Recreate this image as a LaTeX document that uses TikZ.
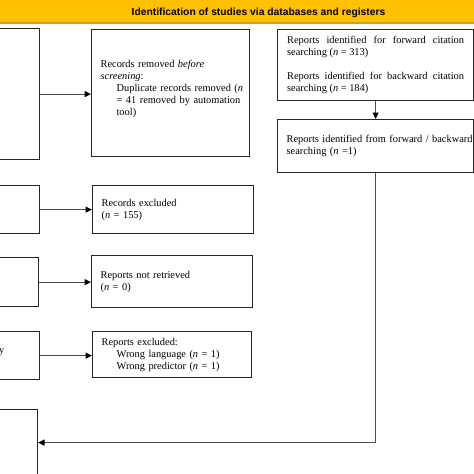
\documentclass[tikz,border=0pt]{standalone}
\usepackage{fontspec}
\setmainfont{Liberation Serif}
\newfontfamily\headfont{Liberation Sans}
\usetikzlibrary{arrows.meta,positioning}
\definecolor{bandgold}{RGB}{255,192,0}
\definecolor{bandedge}{RGB}{214,160,20}
\begin{document}
\begin{tikzpicture}[x=1pt,y=-1pt,
	box/.style={draw=black!85,line width=1.2pt,inner xsep=9pt,inner ysep=0pt,align=left,anchor=north west,font=\fontsize{10.4}{12}\selectfont},
	link/.style={draw=black!70,line width=1pt,-{Triangle[length=6.5pt,width=6pt,color=black]}}]
	\useasboundingbox (0,0) rectangle (474,474);
	% header band
	\fill[bandgold] (0,0) rectangle (474,23);
	\draw[bandedge,line width=1.2pt] (0,23) -- (474,23);
	\node[font=\headfont\bfseries\fontsize{10.3}{12}\selectfont] (head) at (258.5,12.5) {Identification of studies via databases and registers};
	% left column, cut at the page edge
	\foreach \n/\t/\r/\h in {L1/28/40/131,L2/185/40/48,L3/257/39/49,L4/331/40/48,L5/409/38/66}
		\node[box,anchor=north east,minimum width=80pt,minimum height=\h pt] (\n) at (\r,\t) {};
	\node[font=\fontsize{10.4}{12}\selectfont,anchor=base east,inner sep=0pt] (cut) at (4.5,353) {y};
	% middle column
	\node[box,text width=140pt,minimum width=158pt,minimum height=127pt] (M1) at (91,29) {Records removed \textit{before}\\
		\textit{screening}:\\
		\mbox{\hspace*{16pt}Duplicate records removed (\textit{n}}\\
		\mbox{\hspace*{16pt}= 41 removed by automation}\\
		\hspace*{16pt}tool)\\[-1pt]\mbox{}};
	\node[box,text width=143pt,minimum width=161pt,minimum height=48pt] (M2) at (92,185) {Records excluded\\(\textit{n} = 155)};
	\node[box,text width=143pt,minimum width=161pt,minimum height=52pt] (M3) at (91,255) {Reports not retrieved\\(\textit{n} = 0)};
	\node[box,text width=141pt,minimum width=159pt,minimum height=46pt] (M4) at (92,331) {Reports excluded:\\
		\hspace*{15pt}Wrong language (\textit{n} = 1)\\
		\hspace*{15pt}Wrong predictor (\textit{n} = 1)};
	% right column
	\node[box,text width=177pt,align=justify,minimum width=196pt,minimum height=71pt] (A) at (277,29) {Reports identified for forward citation searching (\textit{n} = 313)\\[12pt]
		Reports identified for backward citation searching (\textit{n} = 184)};
	\node[box,text width=178pt,minimum width=196pt,minimum height=53pt] (B) at (277,119) {\mbox{Reports identified from forward / backward}\\searching (\textit{n} =1)};
	% connectors
	\foreach \a/\b in {L1/M1,L2/M2,L3/M3,L4/M4}
		\draw[link] (\a.east) -- (\a.east -| \b.west);
	\draw[link] (A) -- (B);
	\draw[link] (B.south) |- (L5.east);
\end{tikzpicture}
\end{document}
